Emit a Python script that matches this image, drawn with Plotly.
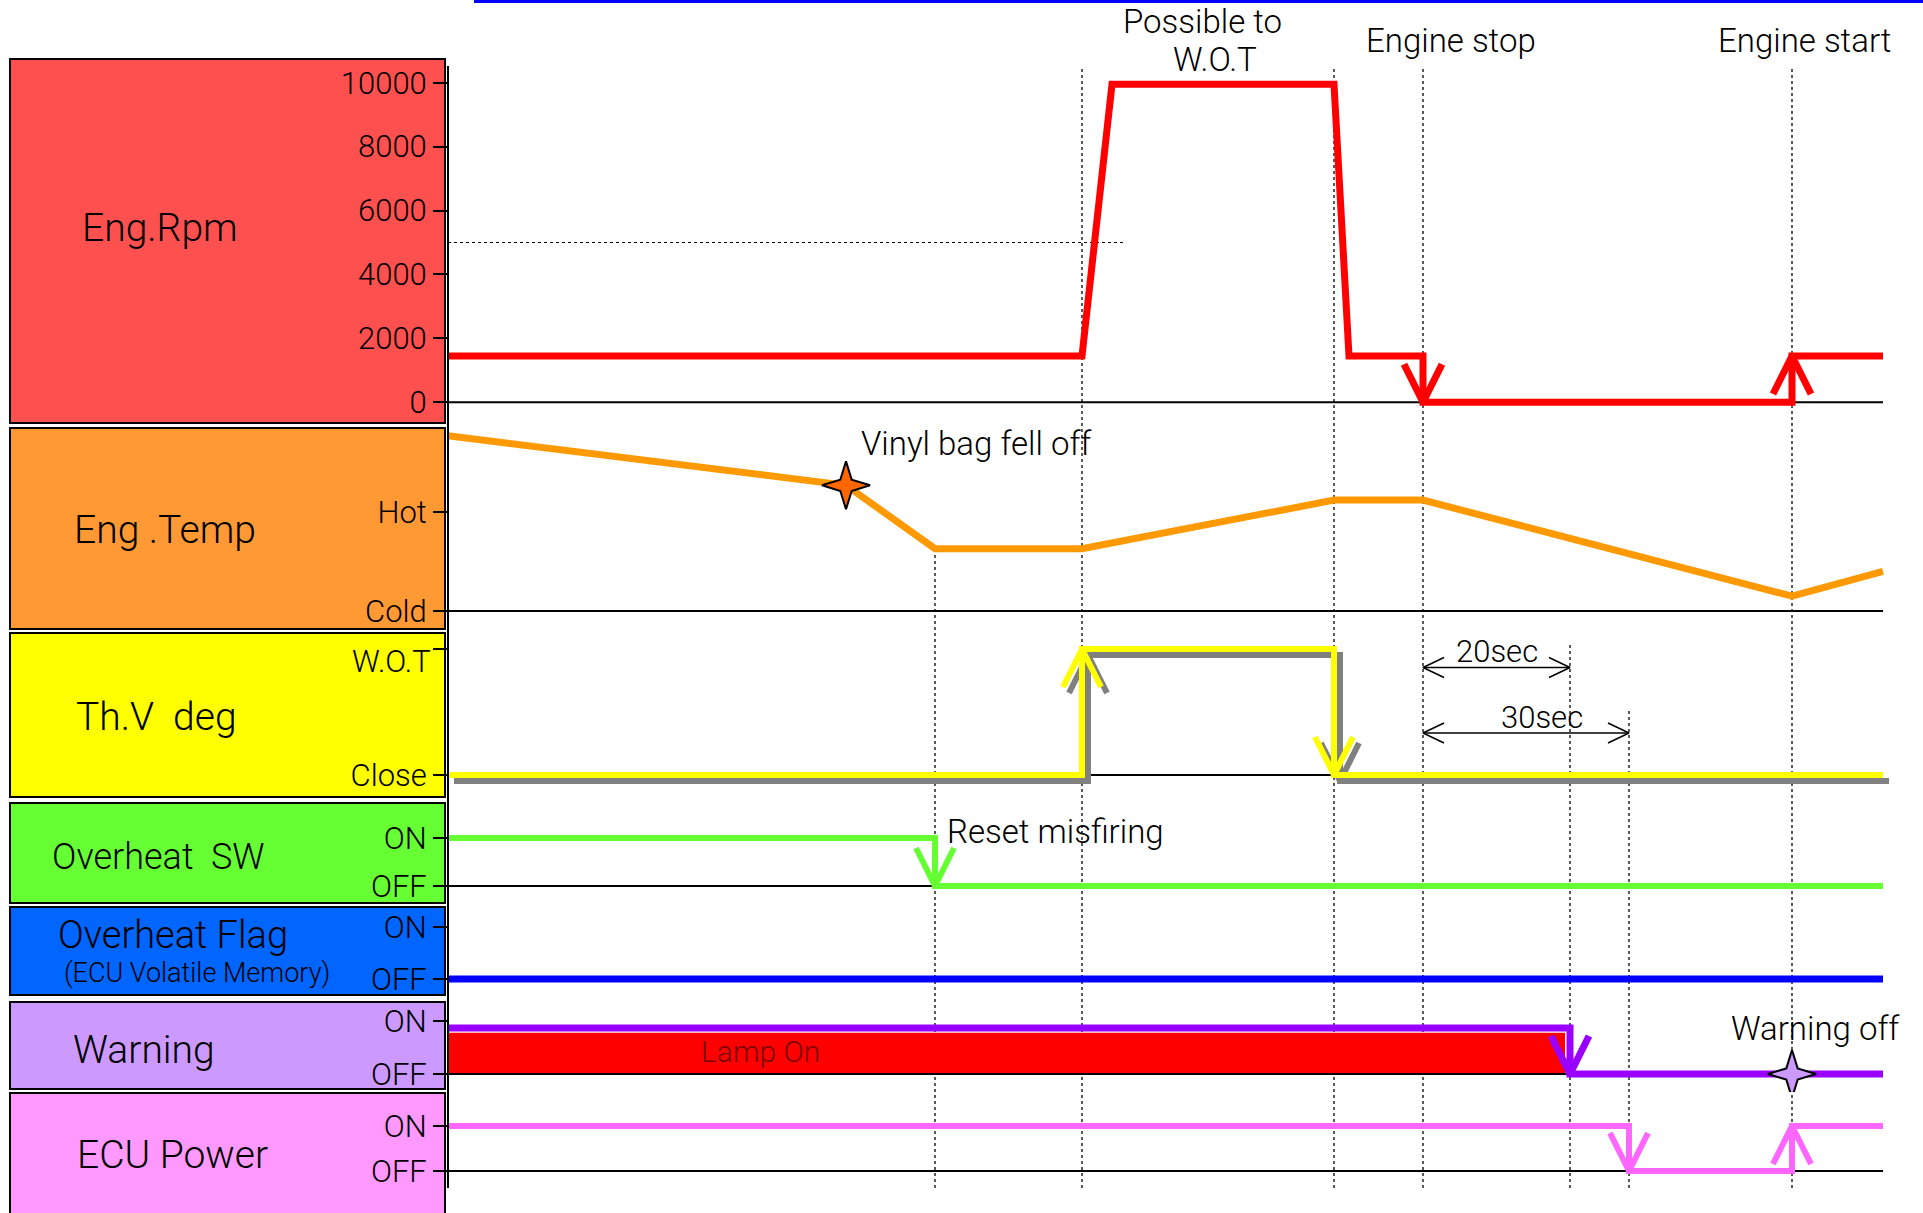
import plotly.graph_objects as go

W, H = 1923, 1213

# ---------------- event times (time units along the test run) ----------------
T_BAG_OFF = 39.8
T_RESET = 48.7
T_WOT = 63.4
T_RPM_PEAK = 66.4
T_CLOSE = 88.6
T_RPM_IDLE = 90.1
T_STOP = 97.5
T_LAMP_END = 111.7
T_WARN_OFF = 112.2
T_ECU_OFF = 118.1
T_START = 134.4
T_END = 143.5

# ---------------- signal traces ----------------
rpm_time = [0, T_WOT, T_RPM_PEAK, T_CLOSE, T_RPM_IDLE, T_STOP, T_STOP, T_START, T_START, T_END]
rpm_value = [1450, 1450, 9950, 9950, 1450, 1450, 0, 0, 1450, 1450]
rpm_ticks = [0, 2000, 4000, 6000, 8000, 10000]
rpm_threshold = 5000
rpm_threshold_end = 67.65

temp_time = [0, T_BAG_OFF, T_RESET, T_WOT, T_CLOSE, T_STOP, T_START, T_END]
temp_value = [1.77, 1.27, 0.63, 0.63, 1.12, 1.12, 0.15, 0.40]
temp_ticks = [0, 1]
temp_ticktext = ["Cold", "Hot"]

thv_time = [0, T_WOT, T_WOT, T_CLOSE, T_CLOSE, T_END]
thv_value = [0, 0, 1, 1, 0, 0]
thv_ticks = [0, 1]
thv_ticktext = ["Close", "W.O.T"]

osw_time = [0, T_RESET, T_RESET, T_END]
osw_value = [1, 1, 0, 0]

flag_time = [0, T_END]
flag_value = [0, 0]

warn_time = [0, T_WARN_OFF, T_WARN_OFF, T_END]
warn_value = [0.87, 0.87, 0, 0]
lamp_time = [0, T_LAMP_END]
lamp_level = 0.78

ecu_time = [0, T_ECU_OFF, T_ECU_OFF, T_START, T_START, T_END]
ecu_value = [1, 1, 0, 0, 1, 1]

onoff_ticks = [0, 1]
onoff_ticktext = ["OFF", "ON"]

# transitions that carry an arrowhead: (panel, time, level reached, direction)
transitions = [
    ("rpm", T_STOP, 0, -1), ("rpm", T_START, 1450, 1),
    ("thv", T_WOT, 1, 1), ("thv", T_CLOSE, 0, -1),
    ("osw", T_RESET, 0, -1),
    ("warn", T_WARN_OFF, 0, -1),
    ("ecu", T_ECU_OFF, 0, -1), ("ecu", T_START, 1, 1),
]

# timing spans on the throttle panel
spans = [("20sec", T_STOP, T_WARN_OFF, 0.853), ("30sec", T_STOP, T_ECU_OFF, 0.333)]

# event guide lines: time and where they begin (page px)
guides = [(T_RESET, 548), (T_WOT, 68), (T_CLOSE, 68), (T_STOP, 68),
          (T_WARN_OFF, 645), (T_ECU_OFF, 709), (T_START, 68)]

# ---------------- page geometry ----------------
X_ORIGIN_PX = 448
PX_PER_T = 10.0
AXIS_BOTTOM_PX = 1188

panels = {
    # band = vertical page span; p0/p1 = page px of value 0 / value v1
    "rpm": dict(axis="y", band=(60, 426), p0=402.3, p1=82.7, v1=10000),
    "temp": dict(axis="y2", band=(427, 631), p0=611, p1=512, v1=1),
    "thv": dict(axis="y3", band=(632, 801), p0=775, p1=649, v1=1),
    "osw": dict(axis="y4", band=(802, 905), p0=886, p1=838, v1=1),
    "flag": dict(axis="y5", band=(906, 999), p0=979, p1=927, v1=1),
    "warn": dict(axis="y6", band=(1000, 1092), p0=1074, p1=1021, v1=1),
    "ecu": dict(axis="y7", band=(1093, 1205), p0=1171, p1=1126, v1=1),
}
for p in panels.values():
    p["ppu"] = (p["p0"] - p["p1"]) / p["v1"]

FONT = "Roboto, 'Open Sans', 'DejaVu Sans', sans-serif"
WEIGHT = 300


def px_to_t(px):
    return (px - X_ORIGIN_PX) / PX_PER_T


def px_to_paper_y(py):
    return 1 - py / H


def font(size, color="black"):
    return dict(family=FONT, size=size, color=color, weight=WEIGHT)


fig = go.Figure()


def add_line(panel, x, y, color, width, dash=None):
    p = panels[panel]
    fig.add_trace(go.Scatter(
        x=x, y=y, yaxis=p["axis"], mode="lines", hoverinfo="skip",
        line=dict(color=color, width=width, dash=dash), showlegend=False))


def arrow_head(panel, t, level, direction, half_px=19, len_px=38):
    p = panels[panel]
    dt = half_px / PX_PER_T
    back = level - direction * len_px / p["ppu"]
    return [t - dt, t, t + dt], [back, level, back]


def heads_for(panel):
    xs, ys = [], []
    for name, t, lvl, d in transitions:
        if name == panel:
            hx, hy = arrow_head(panel, t, lvl, d)
            xs += hx + [None]
            ys += hy + [None]
    return xs, ys


def shifted(panel, xs, ys, dx_px, dy_px):
    p = panels[panel]
    sx = [None if v is None else v + dx_px / PX_PER_T for v in xs]
    sy = [None if v is None else v - dy_px / p["ppu"] for v in ys]
    return sx, sy


def add_star(panel, t, level, fill, outer_px=24, inner_px=8):
    """Four-pointed sparkle centred on an event point."""
    p = panels[panel]
    xs, ys = [], []
    for k in range(8):
        r = outer_px if k % 2 == 0 else inner_px
        dx = [0, 1, 1, 1, 0, -1, -1, -1][k]
        dy = [1, 1, 0, -1, -1, -1, 0, 1][k]
        if k % 2 == 1:
            dx, dy = dx * 0.7071, dy * 0.7071
        xs.append(t + dx * r / PX_PER_T)
        ys.append(level + dy * r / p["ppu"])
    xs.append(xs[0])
    ys.append(ys[0])
    fig.add_trace(go.Scatter(
        x=xs, y=ys, yaxis=p["axis"], mode="lines", fill="toself", fillcolor=fill,
        line=dict(color="black", width=2), hoverinfo="skip", showlegend=False))


# ---------------- baselines ----------------
for name in ["rpm", "temp", "thv", "osw", "warn", "ecu"]:
    add_line(name, [0, T_END], [0, 0], "black", 2)

# RPM threshold guide
add_line("rpm", [0, rpm_threshold_end], [rpm_threshold, rpm_threshold], "black", 1, dash="dot")

# ---------------- Eng. Rpm ----------------
hx, hy = heads_for("rpm")
add_line("rpm", rpm_time, rpm_value, "#FF0000", 7)
add_line("rpm", hx, hy, "#FF0000", 7)

# ---------------- Eng. Temp ----------------
add_line("temp", temp_time, temp_value, "#FF9900", 7)
add_star("temp", T_BAG_OFF, temp_value[1], "#FF6600")

# ---------------- Throttle valve ----------------
hx, hy = heads_for("thv")
px_, py_ = thv_time + [None] + hx, thv_value + [None] + hy
sx, sy = shifted("thv", px_, py_, 6, 6)
add_line("thv", sx, sy, "#808080", 6)
add_line("thv", px_, py_, "#FFFF00", 6)

for label, t0, t1, lvl in spans:
    p = panels["thv"]
    dt = 21 / PX_PER_T
    dv = 10 / p["ppu"]
    xs = [t0, t1, None, t0 + dt, t0, t0 + dt, None, t1 - dt, t1, t1 - dt]
    ys = [lvl, lvl, None, lvl + dv, lvl, lvl - dv, None, lvl + dv, lvl, lvl - dv]
    add_line("thv", xs, ys, "black", 1.5)
    fig.add_annotation(x=(t0 + t1) / 2 + (0 if label == "20sec" else 1.6),
                       y=lvl + 16 / p["ppu"], yref="y3", xref="x",
                       text=label, showarrow=False, yanchor="middle", xanchor="center",
                       font=font(31))

# ---------------- Overheat SW ----------------
hx, hy = heads_for("osw")
add_line("osw", osw_time, osw_value, "#66FF33", 6)
add_line("osw", hx, hy, "#66FF33", 6)

# ---------------- Overheat flag ----------------
add_line("flag", flag_time, flag_value, "#0000FF", 7)

# ---------------- Warning ----------------
fig.add_trace(go.Scatter(
    x=[lamp_time[0], lamp_time[1], lamp_time[1], lamp_time[0]],
    y=[0, 0, lamp_level, lamp_level], yaxis="y6", mode="lines", fill="toself",
    fillcolor="#FF0000", line=dict(width=0, color="#FF0000"),
    hoverinfo="skip", showlegend=False))
add_line("warn", [0, T_WARN_OFF], [0, 0], "black", 2)
hx, hy = heads_for("warn")
add_line("warn", warn_time, warn_value, "#9900FF", 7)
add_line("warn", hx, hy, "#9900FF", 7)
add_star("warn", T_START, 0, "#CC99FF")
fig.add_annotation(x=sum(lamp_time) / 2 - 24.6, y=lamp_level * 0.55, xref="x", yref="y6",
                   text="Lamp On", showarrow=False, xanchor="center", yanchor="middle",
                   font=font(30, "#7A0000"))

# ---------------- ECU power ----------------
hx, hy = heads_for("ecu")
add_line("ecu", ecu_time, ecu_value, "#FF66FF", 6)
add_line("ecu", hx, hy, "#FF66FF", 6)

# ---------------- axes ----------------
layout = dict(
    width=W, height=H, autosize=False,
    margin=dict(l=0, r=0, t=0, b=0),
    paper_bgcolor="white", plot_bgcolor="white", showlegend=False,
    font=font(20),
    xaxis=dict(domain=[0, 1], range=[px_to_t(0), px_to_t(W)], visible=False,
               anchor="y", fixedrange=True),
)
tick_setup = {
    "rpm": (rpm_ticks, [str(v) for v in rpm_ticks]),
    "temp": (temp_ticks, temp_ticktext),
    "thv": (thv_ticks, ["Close", ""]),
    "osw": (onoff_ticks, onoff_ticktext),
    "flag": (onoff_ticks, onoff_ticktext),
    "warn": (onoff_ticks, onoff_ticktext),
    "ecu": (onoff_ticks, onoff_ticktext),
}
for name, p in panels.items():
    top, bot = p["band"]
    rng = [(p["p0"] - bot) / p["ppu"], (p["p0"] - top) / p["ppu"]]
    key = "yaxis" if p["axis"] == "y" else "yaxis" + p["axis"][1:]
    tv, tt = tick_setup[name]
    layout[key] = dict(
        domain=[px_to_paper_y(bot), px_to_paper_y(top)], range=rng,
        anchor="free", position=X_ORIGIN_PX / W, showgrid=False, zeroline=False,
        showline=False, ticks="outside", ticklen=15, tickwidth=2, tickcolor="black",
        tickvals=tv, ticktext=tt, tickfont=font(31), automargin=False,
        fixedrange=True)
fig.update_layout(**layout)

# W.O.T label sits just under its tick
fig.add_annotation(x=433 / W, y=px_to_paper_y(662), xref="paper", yref="paper",
                   text=thv_ticktext[1], showarrow=False, xanchor="right", yanchor="middle",
                   font=font(31))

# ---------------- decoration: label boxes, guides, frame ----------------
boxes = [
    ("Eng.Rpm", "#FF5050", 59, 423, 228, 39),
    ("Eng .Temp", "#FF9933", 428, 629, 530, 39),
    ("Th.V  deg", "#FFFF00", 633, 797, 717, 39),
    ("Overheat  SW", "#66FF33", 803, 903, 857, 36),
    ("Overheat Flag", "#0066FF", 907, 995, 935, 38),
    ("Warning", "#CC99FF", 1002, 1089, 1050, 39),
    ("ECU Power", "#FF99FF", 1093, 1225, 1155, 39),
]
label_x = [160, 165, 156, 158, 173, 144, 172]
shapes = []
for (text, color, top, bot, ty, fs), lx in zip(boxes, label_x):
    shapes.append(dict(type="rect", xref="paper", yref="paper",
                       x0=10 / W, x1=445 / W, y0=px_to_paper_y(bot), y1=px_to_paper_y(top),
                       fillcolor=color, line=dict(color="black", width=2), layer="below"))
    fig.add_annotation(x=lx / W, y=px_to_paper_y(ty), xref="paper", yref="paper",
                       text=text, showarrow=False, xanchor="center", yanchor="middle",
                       font=font(fs))
fig.add_annotation(x=197 / W, y=px_to_paper_y(973), xref="paper", yref="paper",
                   text="(ECU Volatile Memory)", showarrow=False,
                   xanchor="center", yanchor="middle", font=font(27))

# axis spine shared by all panels
shapes.append(dict(type="line", xref="paper", yref="paper",
                   x0=X_ORIGIN_PX / W, x1=X_ORIGIN_PX / W,
                   y0=px_to_paper_y(AXIS_BOTTOM_PX), y1=px_to_paper_y(66),
                   line=dict(color="black", width=2)))
# event guide lines
for t, top_px in guides:
    shapes.append(dict(type="line", xref="x", yref="paper", x0=t, x1=t,
                       y0=px_to_paper_y(AXIS_BOTTOM_PX), y1=px_to_paper_y(top_px),
                       line=dict(color="black", width=1.3, dash="dot"), layer="below"))
# rule across the top of the page
shapes.append(dict(type="line", xref="paper", yref="paper", x0=474 / W, x1=1,
                   y0=px_to_paper_y(1.5), y1=px_to_paper_y(1.5),
                   line=dict(color="#0000FF", width=3)))
fig.update_layout(shapes=shapes)

# ---------------- event captions ----------------
captions = [
    ("Possible to", T_WOT + 12.0, 22),
    ("W.O.T", T_WOT + 13.3, 59),
    ("Engine stop", T_STOP + 2.8, 40),
    ("Engine start", T_START + 1.2, 40),
    ("Vinyl bag fell off", T_BAG_OFF + 13.0, 443),
    ("Reset misfiring", T_RESET + 12.0, 831),
    ("Warning off", T_START + 2.3, 1028),
]
for text, t, ypx in captions:
    fig.add_annotation(x=t, y=px_to_paper_y(ypx), xref="x", yref="paper",
                       text=text, showarrow=False, xanchor="center", yanchor="middle",
                       font=font(33))

fig.write_html("out.html")
